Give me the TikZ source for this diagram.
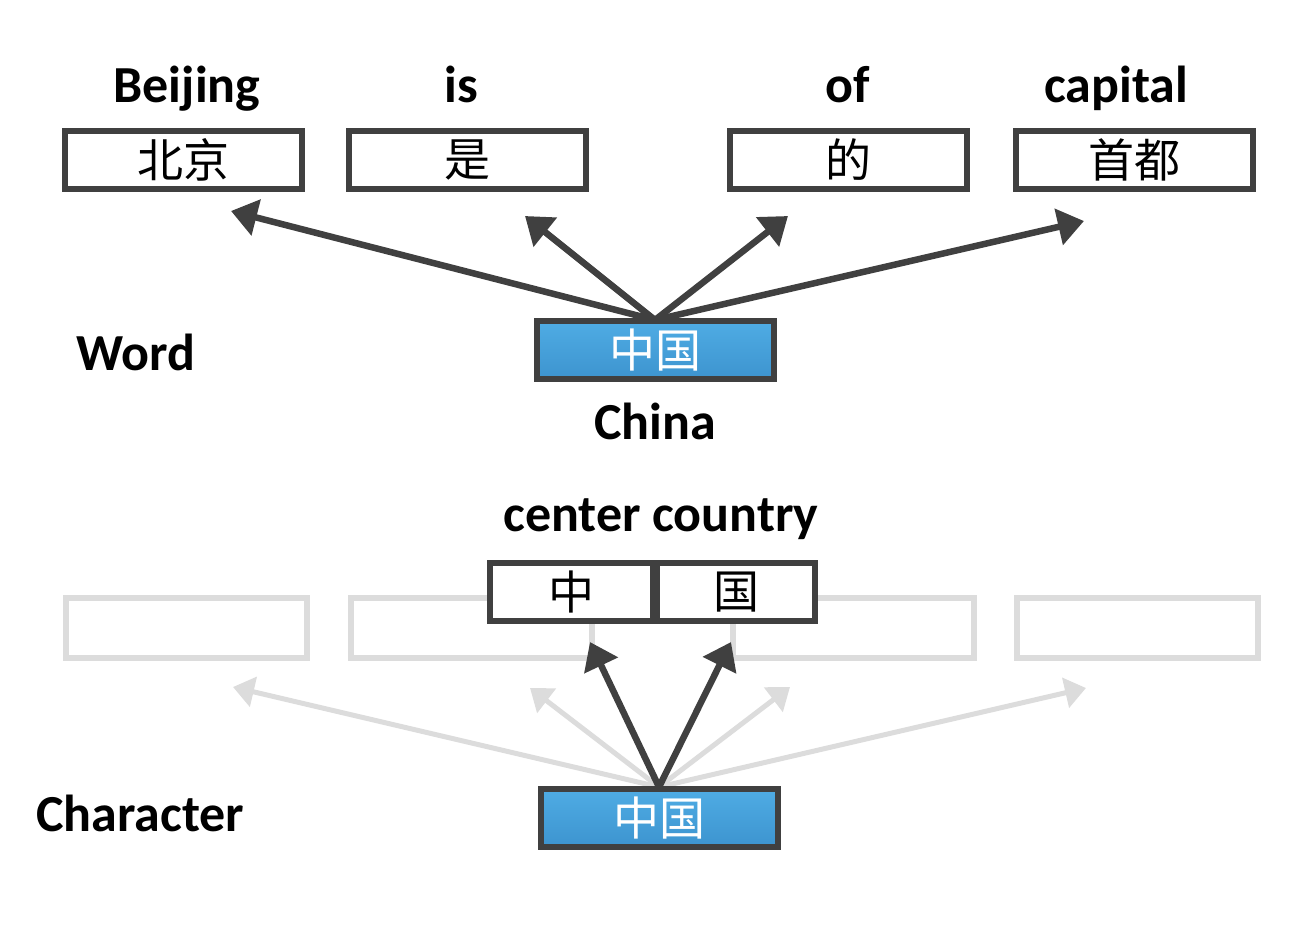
\documentclass[tikz,border=0pt]{standalone}
\usepackage{fontspec}
\setmainfont{Carlito}
\newfontfamily\cjk{Noto Sans CJK SC}
\usetikzlibrary{arrows.meta}
\definecolor{dk}{HTML}{404040}
\definecolor{lg}{HTML}{DCDCDC}
\definecolor{bltop}{HTML}{4FACE4}
\definecolor{blbot}{HTML}{3D94CF}
\begin{document}
\begin{tikzpicture}[x=1pt,y=-1pt,
  wbox/.style={draw=dk,line width=6pt,fill=white,minimum width=237pt,minimum height=58pt,inner sep=0pt,font=\cjk\fontsize{46}{46}\selectfont},
  gbox/.style={draw=lg,line width=6pt,minimum width=241pt,minimum height=60pt,inner sep=0pt},
  bbox/.style={draw=dk,line width=6pt,top color=bltop,bottom color=blbot,minimum width=237pt,minimum height=58pt,inner sep=0pt,text=white,font=\cjk\fontsize{46}{46}\selectfont},
  lbl/.style={font=\bfseries\fontsize{52}{52}\selectfont,anchor=base,inner sep=0pt},
  darr/.style={draw=dk,line width=6.5pt,-{Triangle[length=26pt,width=36pt]}},
  garr/.style={draw=lg,line width=5pt,-{Triangle[length=21pt,width=30pt]}}]
\useasboundingbox (0,0) rectangle (1316,936);
% top labels
\node[lbl] (lb1) at (187,103) {Beijing};
\node[lbl] (lb2) at (461,103) {is};
\node[lbl] (lb3) at (848,103) {of};
\node[lbl] (lb4) at (1116,103) {capital};
% top boxes
\node[wbox] (b1) at (183.5,160) {北京};
\node[wbox] (b2) at (467.5,160) {是};
\node[wbox] (b3) at (848,160) {的};
\node[wbox] (b4) at (1134,160) {首都};
% word box
\node[bbox] (w) at (655.5,350) {中国};
\coordinate (t1) at (231,211);
\coordinate (t2) at (525,216);
\coordinate (t3) at (788,216);
\coordinate (t4) at (1084,221);
\coordinate (ws) at (655,320);
\foreach \t in {t1,t2,t3,t4} \draw[darr] (ws) -- (\t);
\node[lbl,anchor=base west] (lw) at (76,370) {Word};
\node[lbl] (lc) at (655,439) {China};
% character level
\node[gbox] (g1) at (186.5,628) {};
\node[gbox] (g2) at (471.5,628) {};
\node[gbox] (g3) at (853.5,628) {};
\node[gbox] (g4) at (1137,628) {};
\coordinate (cs) at (659,787);
\coordinate (u1) at (233,687);
\coordinate (u2) at (530,688);
\coordinate (u3) at (790,687);
\coordinate (u4) at (1086,688);
\foreach \t in {u1,u2,u3,u4} \draw[garr] (cs) -- (\t);
\node[lbl] (lcc) at (661,531) {center country};
\node[wbox,minimum width=163pt] (k1) at (571.5,592) {中};
\node[wbox,minimum width=158pt] (k2) at (736,592) {国};
\node[bbox] (c) at (659.5,818) {中国};
\coordinate (v1) at (590,642);
\coordinate (v2) at (731,642);
\draw[darr] (cs) -- (v1);
\draw[darr] (cs) -- (v2);
\node[lbl,anchor=base west] (lch) at (36,831) {Character};
\end{tikzpicture}
\end{document}
